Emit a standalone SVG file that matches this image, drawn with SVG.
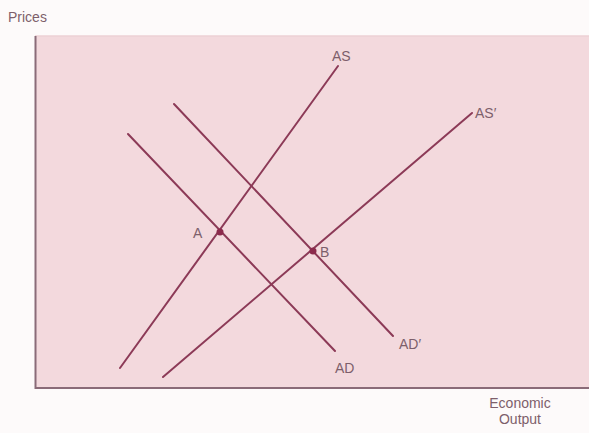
<svg xmlns="http://www.w3.org/2000/svg" width="589" height="433" viewBox="0 0 589 433">
<style>
text{font-family:"Liberation Sans",Arial,sans-serif;fill:#7d5f6b;font-size:14px}
.crv{stroke:#8c3a57;stroke-width:2;fill:none;stroke-linecap:round}
.dot{fill:#8c2a4c}
</style>
<rect width="589" height="433" fill="#fdfafa"/>
<g id="panel">
<rect x="35" y="36" width="554" height="352" fill="#f3d9dd"/>
<line x1="35" y1="36" x2="589" y2="36" stroke="#ecd0d5" stroke-width="1.5"/>
<path d="M35.5 36V388H589" fill="none" stroke="#8a6b78" stroke-width="2"/>
</g>
<g id="labels-axes">
<text x="8" y="22">Prices</text>
<text x="520" y="408" text-anchor="middle">Economic</text>
<text x="520" y="424" text-anchor="middle">Output</text>
</g>
<g id="connectors">
<line class="crv" x1="120" y1="368" x2="338" y2="66"/>
<line class="crv" x1="163" y1="377" x2="472" y2="113"/>
<line class="crv" x1="128" y1="134" x2="335" y2="351"/>
<line class="crv" x1="174" y1="104" x2="393" y2="336"/>
</g>
<g id="AS"><text x="332" y="61">AS</text></g>
<g id="ASp"><text x="475" y="118">AS′</text></g>
<g id="AD"><text x="335" y="373">AD</text></g>
<g id="ADp"><text x="399" y="349">AD′</text></g>
<g id="A"><circle class="dot" cx="220" cy="232" r="3.5"/><text x="193" y="238">A</text></g>
<g id="B"><circle class="dot" cx="313" cy="251" r="3.5"/><text x="320" y="257">B</text></g>
</svg>
